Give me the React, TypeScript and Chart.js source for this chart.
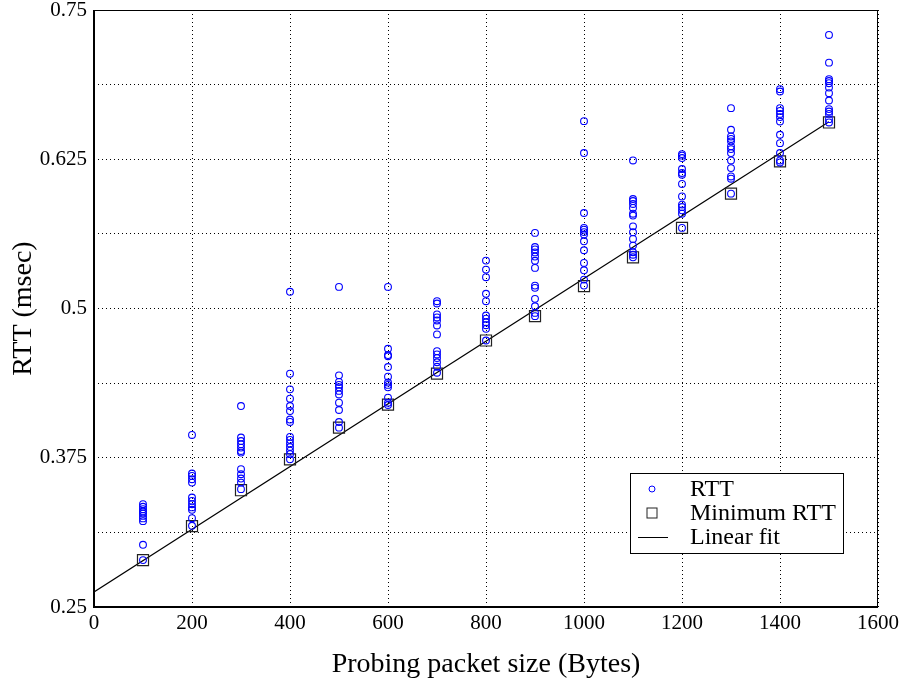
import React, { useEffect, useRef } from "react";
import { Chart, registerables } from "chart.js";

Chart.register(...registerables);

// ---------- data ----------
const packetSizes = [100, 200, 300, 400, 500, 600, 700, 800, 900, 1000, 1100, 1200, 1300, 1400, 1500];

const rttSamples: number[][] = [
  [0.3361, 0.3339, 0.3319, 0.3300, 0.3283, 0.3263, 0.3242, 0.3219, 0.3021, 0.2893],
  [0.3941, 0.3618, 0.3598, 0.3570, 0.3542, 0.3417, 0.3389, 0.3361, 0.3334, 0.3314, 0.3244, 0.3180],
  [0.4183, 0.3919, 0.3890, 0.3863, 0.3835, 0.3807, 0.3793, 0.3654, 0.3612, 0.3576, 0.3542, 0.3487],
  [0.5140, 0.4454, 0.4323, 0.4245, 0.4183, 0.4141, 0.4070, 0.4050, 0.3925, 0.3900, 0.3870, 0.3840, 0.3810, 0.3780, 0.3737],
  [0.5181, 0.4440, 0.4385, 0.4360, 0.4340, 0.4310, 0.4280, 0.4211, 0.4150, 0.4049, 0.4002],
  [0.5181, 0.4663, 0.4610, 0.4600, 0.4510, 0.4429, 0.4380, 0.4360, 0.4340, 0.4253, 0.4211, 0.4192],
  [0.5061, 0.5042, 0.4950, 0.4925, 0.4900, 0.4858, 0.4783, 0.4643, 0.4615, 0.4585, 0.4550, 0.4512, 0.4462],
  [0.5401, 0.5326, 0.5262, 0.5123, 0.5061, 0.4941, 0.4915, 0.4885, 0.4860, 0.4830, 0.4732],
  [0.5633, 0.5515, 0.5495, 0.5470, 0.5435, 0.5400, 0.5340, 0.5192, 0.5173, 0.5081, 0.5019, 0.4963, 0.4936],
  [0.6569, 0.6302, 0.5800, 0.5675, 0.5660, 0.5640, 0.5619, 0.5563, 0.5488, 0.5382, 0.5320, 0.5242, 0.5192],
  [0.6240, 0.5917, 0.5900, 0.5875, 0.5842, 0.5794, 0.5778, 0.5688, 0.5638, 0.5583, 0.5527, 0.5471, 0.5450, 0.5429],
  [0.6293, 0.6280, 0.6260, 0.6168, 0.6135, 0.6120, 0.6043, 0.5939, 0.5870, 0.5850, 0.5822, 0.5794, 0.5675],
  [0.6678, 0.6497, 0.6441, 0.6420, 0.6400, 0.6358, 0.6335, 0.6302, 0.6240, 0.6176, 0.6106, 0.6087, 0.5962],
  [0.6837, 0.6817, 0.6678, 0.6655, 0.6630, 0.6603, 0.6566, 0.6455, 0.6385, 0.6302, 0.6240, 0.6223],
  [0.7291, 0.7059, 0.6921, 0.6905, 0.6887, 0.6850, 0.6803, 0.6742, 0.6670, 0.6650, 0.6630, 0.6586, 0.6558],
];

const minRtt = [0.2893, 0.3177, 0.3478, 0.3737, 0.4002, 0.4195, 0.4454, 0.4732, 0.4936, 0.5187, 0.5429, 0.5675, 0.5962, 0.6232, 0.6558];

const fitX = [0, 1500];
const fitY = [0.2625, 0.6564];

const seriesLabels = ["RTT", "Minimum RTT", "Linear fit"];
const yLabelValues = [0.25, 0.375, 0.5, 0.625, 0.75];
const xTitle = "Probing packet size (Bytes)";
const yTitle = "RTT (msec)";

// ---------- styling ----------
const FONT = "'Liberation Serif', 'Times New Roman', Times, serif";

const framePlugin = {
  id: "frame",
  afterDatasetsDraw(chart: any) {
    const { ctx, chartArea: a } = chart;
    ctx.save();
    ctx.strokeStyle = "#000";
    ctx.lineWidth = 1;
    ctx.beginPath();
    ctx.moveTo(a.left, a.top + 0.5);
    ctx.lineTo(a.right, a.top + 0.5);
    ctx.moveTo(a.right - 0.5, a.top);
    ctx.lineTo(a.right - 0.5, a.bottom);
    ctx.stroke();
    ctx.lineWidth = 2;
    ctx.beginPath();
    ctx.moveTo(a.left, a.top);
    ctx.lineTo(a.left, a.bottom);
    ctx.lineTo(a.right, a.bottom);
    ctx.stroke();
    ctx.restore();
  },
};

const legendPlugin = {
  id: "boxLegend",
  afterDraw(chart: any) {
    const { ctx, chartArea: a } = chart;
    const w = 213;
    const h = 80;
    const x0 = a.right - 35 - w;
    const y0 = a.bottom - 54 - h;
    ctx.save();
    ctx.fillStyle = "#fff";
    ctx.fillRect(x0, y0, w, h);
    ctx.strokeStyle = "#000";
    ctx.lineWidth = 1;
    ctx.strokeRect(x0 + 0.5, y0 + 0.5, w, h);
    const mx = x0 + 22;
    const tx = x0 + 60;
    const rows = [y0 + 16, y0 + 40, y0 + 64];
    const ds = chart.data.datasets;
    ctx.font = `24px ${FONT}`;
    ctx.textBaseline = "middle";
    ctx.textAlign = "left";
    for (let i = 0; i < ds.length; i++) {
      const y = rows[i];
      ctx.strokeStyle = ds[i].borderColor;
      ctx.lineWidth = 1;
      if (i === 0) {
        ctx.beginPath();
        ctx.arc(mx, y, 3, 0, Math.PI * 2);
        ctx.stroke();
      } else if (i === 1) {
        ctx.strokeRect(mx - 5, y - 5, 10, 10);
      } else {
        ctx.beginPath();
        ctx.moveTo(mx - 14, y + 0.5);
        ctx.lineTo(mx + 16, y + 0.5);
        ctx.stroke();
      }
      ctx.fillStyle = "#000";
      ctx.fillText(ds[i].label, tx, y + 1);
    }
    ctx.restore();
  },
};

export default function App() {
  const canvasRef = useRef<HTMLCanvasElement | null>(null);

  useEffect(() => {
    const canvas = canvasRef.current;
    if (!canvas) return;

    const rttPoints: { x: number; y: number }[] = [];
    packetSizes.forEach((s, i) => {
      rttSamples[i].forEach((v) => rttPoints.push({ x: s, y: v }));
    });
    const minPoints = packetSizes.map((s, i) => ({ x: s, y: minRtt[i] }));
    const fitPoints = fitX.map((x, i) => ({ x, y: fitY[i] }));

    const chart = new Chart(canvas, {
      type: "scatter",
      data: {
        datasets: [
          {
            label: seriesLabels[0],
            data: rttPoints,
            pointStyle: "circle",
            pointRadius: 3.4,
            borderColor: "#0000ff",
            backgroundColor: "rgba(0,0,0,0)",
            borderWidth: 1.1,
            showLine: false,
          },
          {
            label: seriesLabels[1],
            data: minPoints,
            pointStyle: "rect",
            pointRadius: 7.8,
            borderColor: "#222",
            backgroundColor: "rgba(0,0,0,0)",
            borderWidth: 1.2,
            showLine: false,
          },
          {
            label: seriesLabels[2],
            data: fitPoints,
            pointRadius: 0,
            borderColor: "#000",
            borderWidth: 1.2,
            showLine: true,
            fill: false,
          },
        ],
      },
      options: {
        animation: false,
        responsive: false,
        maintainAspectRatio: false,
        events: [],
        layout: { padding: { left: 0, right: 27, top: 10, bottom: 0 } },
        plugins: {
          legend: { display: false },
          tooltip: { enabled: false },
        },
        scales: {
          x: {
            type: "linear",
            min: 0,
            max: 1600,
            ticks: {
              stepSize: 200,
              color: "#000",
              font: { family: FONT, size: 21 },
              padding: 4,
              maxRotation: 0,
              callback: (v: any) => String(v),
            },
            grid: {
              color: "#000",
              lineWidth: 1,
              drawTicks: false,
            },
            border: { display: false, dash: [1, 3] },
            title: {
              display: true,
              text: xTitle,
              color: "#000",
              font: { family: FONT, size: 28 },
              padding: { top: 0, bottom: 0 },
            },
            afterFit: (scale: any) => {
              scale.height = 74;
              scale.paddingLeft = 0;
              scale.paddingRight = 0;
            },
          },
          y: {
            type: "linear",
            min: 0.25,
            max: 0.75,
            ticks: {
              stepSize: 0.0625,
              color: "#000",
              font: { family: FONT, size: 21 },
              padding: 7,
              callback: (v: any) =>
                yLabelValues.some((l) => Math.abs(l - v) < 1e-9) ? String(v) : "",
            },
            grid: {
              color: "#000",
              lineWidth: 1,
              drawTicks: false,
            },
            border: { display: false, dash: [1, 3] },
            title: {
              display: true,
              text: yTitle,
              color: "#000",
              font: { family: FONT, size: 28 },
              padding: { top: 7, bottom: 0 },
            },
            afterFit: (scale: any) => {
              scale.width = 94;
              scale.paddingTop = 0;
              scale.paddingBottom = 0;
            },
          },
        },
      },
      plugins: [framePlugin, legendPlugin],
    } as any);

    return () => {
      chart.destroy();
    };
  }, []);

  return (
    <div style={{ position: "absolute", left: 0, top: 0, width: 905, height: 681, background: "#fff" }}>
      <canvas ref={canvasRef} width={905} height={681} style={{ display: "block", width: 905, height: 681 }} />
    </div>
  );
}
